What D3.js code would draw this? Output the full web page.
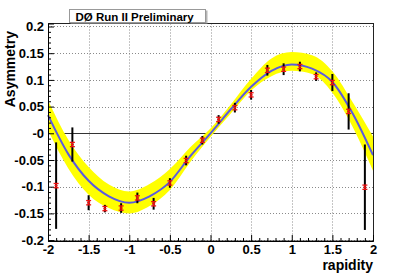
<!DOCTYPE html>
<html><head><meta charset="utf-8">
<script src="https://cdn.jsdelivr.net/npm/d3@7"></script>
<style>
html,body{margin:0;padding:0;background:#fff;}
svg text{font-family:"Liberation Sans",Arial,Helvetica,sans-serif;font-weight:bold;fill:#000;}
</style></head>
<body>
<svg id="c" width="407" height="276"></svg>
<script>
// ---- data ----
const binCenters = [-1.9,-1.7,-1.5,-1.3,-1.1,-0.9,-0.7,-0.5,-0.3,-0.1,0.1,0.3,0.5,0.7,0.9,1.1,1.3,1.5,1.7,1.9];
const asymValues = [-0.098,-0.021,-0.130,-0.141,-0.140,-0.121,-0.132,-0.093,-0.051,-0.013,0.026,0.048,0.072,0.118,0.120,0.125,0.106,0.095,0.041,-0.101];
const statErrors = [0.004,0.004,0.004,0.004,0.004,0.004,0.004,0.004,0.004,0.004,0.004,0.004,0.004,0.004,0.004,0.004,0.004,0.004,0.004,0.004];
const totalErrors = [0.081,0.032,0.014,0.007,0.009,0.010,0.011,0.009,0.009,0.008,0.008,0.009,0.009,0.010,0.011,0.009,0.008,0.016,0.034,0.080];

const fitX     = [-2,-1.75,-1.5,-1.25,-1,-0.75,-0.5,-0.25,0,0.25,0.5,0.75,1,1.25,1.5,1.75,2];
const fitValue = [0.034,-0.039,-0.089,-0.118,-0.130,-0.118,-0.091,-0.043,0.0,0.045,0.087,0.117,0.129,0.121,0.096,0.037,-0.041];
const bandHigh = [0.062,-0.012,-0.063,-0.096,-0.109,-0.095,-0.067,-0.026,0.009,0.054,0.102,0.140,0.152,0.146,0.116,0.058,-0.006];
const bandLow  = [0.006,-0.066,-0.115,-0.140,-0.150,-0.136,-0.106,-0.054,-0.007,0.037,0.080,0.107,0.117,0.111,0.076,0.012,-0.070];

const xTickValues = [-2,-1.5,-1,-0.5,0,0.5,1,1.5,2];
const xTickLabels = ["-2","-1.5","-1","-0.5","0","0.5","1","1.5","2"];
const yTickValues = [-0.2,-0.15,-0.1,-0.05,0,0.05,0.1,0.15,0.2];
const yTickLabels = ["-0.2","-0.15","-0.1","-0.05","-0","0.05","0.1","0.15","0.2"];
const xMinorTicks = [-1.9,-1.8,-1.7,-1.6,-1.4,-1.3,-1.2,-1.1,-0.9,-0.8,-0.7,-0.6,-0.4,-0.3,-0.2,-0.1,0.1,0.2,0.3,0.4,0.6,0.7,0.8,0.9,1.1,1.2,1.3,1.4,1.6,1.7,1.8,1.9];
const yMinorTicks = [-0.19,-0.18,-0.17,-0.16,-0.14,-0.13,-0.12,-0.11,-0.09,-0.08,-0.07,-0.06,-0.04,-0.03,-0.02,-0.01,0.01,0.02,0.03,0.04,0.06,0.07,0.08,0.09,0.11,0.12,0.13,0.14,0.16,0.17,0.18,0.19];

const titleText = "DØ Run II Preliminary";
const xTitle = "rapidity";
const yTitle = "Asymmetry";

// ---- layout ----
const L = 48, R = 373, T = 23.5, B = 241;
const x = d3.scaleLinear().domain([-2, 2]).range([L, R]);
const y = d3.scaleLinear().domain([-0.2017, 0.2056]).range([B, T]);
const svg = d3.select("#c");

// grid
const grid = svg.append("g").attr("stroke", "#8a8a8a").attr("stroke-width", 1).attr("stroke-dasharray", "1,2");
grid.selectAll("line.v").data(xTickValues.slice(1, -1)).join("line")
  .attr("x1", d => Math.round(x(d)) + 0.5).attr("x2", d => Math.round(x(d)) + 0.5)
  .attr("y1", T).attr("y2", B);
grid.selectAll("line.h").data(yTickValues).join("line")
  .attr("x1", L).attr("x2", R)
  .attr("y1", d => Math.round(y(d)) + 0.5).attr("y2", d => Math.round(y(d)) + 0.5);

// zero line
svg.append("line").attr("x1", L).attr("x2", R)
  .attr("y1", Math.round(y(0)) + 0.5).attr("y2", Math.round(y(0)) + 0.5)
  .attr("stroke", "#333").attr("stroke-width", 1);

// band
const bandData = fitX.map((v, i) => ({x: v, hi: bandHigh[i], lo: bandLow[i]}));
svg.append("path").datum(bandData)
  .attr("fill", "#ffff00")
  .attr("d", d3.area().curve(d3.curveMonotoneX).x(d => x(d.x)).y0(d => y(d.lo)).y1(d => y(d.hi)));

// fit curve
const fitData = fitX.map((v, i) => ({x: v, y: fitValue[i]}));
svg.append("path").datum(fitData)
  .attr("fill", "none").attr("stroke", "#5b5be0").attr("stroke-width", 2)
  .attr("d", d3.line().curve(d3.curveMonotoneX).x(d => x(d.x)).y(d => y(d.y)));

// total error bars (black)
const pts = binCenters.map((c, i) => ({x: c, y: asymValues[i], s: statErrors[i], t: totalErrors[i]}));
svg.append("g").selectAll("line").data(pts).join("line")
  .attr("x1", d => x(d.x)).attr("x2", d => x(d.x))
  .attr("y1", d => y(d.y + d.t)).attr("y2", d => y(d.y - d.t))
  .attr("stroke", "#000").attr("stroke-width", 2);

// stat error bars (red)
const red = svg.append("g").attr("stroke", "#ee1111").attr("stroke-width", 1.3);
red.selectAll("line.e").data(pts).join("line")
  .attr("x1", d => x(d.x)).attr("x2", d => x(d.x))
  .attr("y1", d => y(d.y + d.s)).attr("y2", d => y(d.y - d.s));
red.selectAll("line.c1").data(pts).join("line")
  .attr("x1", d => x(d.x) - 2.5).attr("x2", d => x(d.x) + 2.5)
  .attr("y1", d => y(d.y + d.s)).attr("y2", d => y(d.y + d.s));
red.selectAll("line.c2").data(pts).join("line")
  .attr("x1", d => x(d.x) - 2.5).attr("x2", d => x(d.x) + 2.5)
  .attr("y1", d => y(d.y - d.s)).attr("y2", d => y(d.y - d.s));
red.selectAll("line.m").data(pts).join("line")
  .attr("x1", d => x(d.x) - 1.5).attr("x2", d => x(d.x) + 1.5)
  .attr("y1", d => y(d.y)).attr("y2", d => y(d.y));

// frame
svg.append("rect").attr("x", L + 0.5).attr("y", T).attr("width", R - L).attr("height", B - T)
  .attr("fill", "none").attr("stroke", "#222").attr("stroke-width", 1);

// axes
const fs = "13px";
const xAxis = d3.axisBottom(x).tickValues(xTickValues)
  .tickFormat((d, i) => xTickLabels[i]).tickSize(-6).tickPadding(4);
const gx = svg.append("g").attr("transform", `translate(0,${B})`).call(xAxis);
gx.call(g => g.select(".domain").attr("stroke", "#000"));
gx.selectAll("text").attr("font-size", fs).style("font-family", "Liberation Sans, Arial, sans-serif").style("font-weight", "bold");
const xMin = d3.axisBottom(x).tickValues(xMinorTicks).tickFormat("").tickSize(-3).tickSizeOuter(0);
svg.append("g").attr("transform", `translate(0,${B})`).call(xMin).call(g => g.select(".domain").remove());

const yAxis = d3.axisLeft(y).tickValues(yTickValues)
  .tickFormat((d, i) => yTickLabels[i]).tickSize(-6).tickPadding(4);
const gy = svg.append("g").attr("transform", `translate(${L},0)`).call(yAxis);
gy.call(g => g.select(".domain").attr("stroke", "#000"));
gy.selectAll("text").attr("font-size", fs).style("font-family", "Liberation Sans, Arial, sans-serif").style("font-weight", "bold");
const yMin = d3.axisLeft(y).tickValues(yMinorTicks).tickFormat("").tickSize(-3).tickSizeOuter(0);
svg.append("g").attr("transform", `translate(${L},0)`).call(yMin).call(g => g.select(".domain").remove());

// axis titles
svg.append("text").attr("x", R).attr("y", 270).attr("text-anchor", "end")
  .attr("font-size", "14px").text(xTitle);
svg.append("text").attr("transform", `translate(15,31) rotate(-90)`).attr("text-anchor", "end")
  .attr("font-size", "14px").text(yTitle);

// title box
svg.append("rect").attr("x", 70.5).attr("y", 10.5).attr("width", 137).attr("height", 13)
  .attr("fill", "#b5b5b5");
svg.append("rect").attr("x", 69.5).attr("y", 9.5).attr("width", 136).attr("height", 13)
  .attr("fill", "#fff").attr("stroke", "#999").attr("stroke-width", 1);
svg.append("text").attr("x", 75.5).attr("y", 20.5).attr("font-size", "11.5px").text(titleText);
</script>
</body></html>
